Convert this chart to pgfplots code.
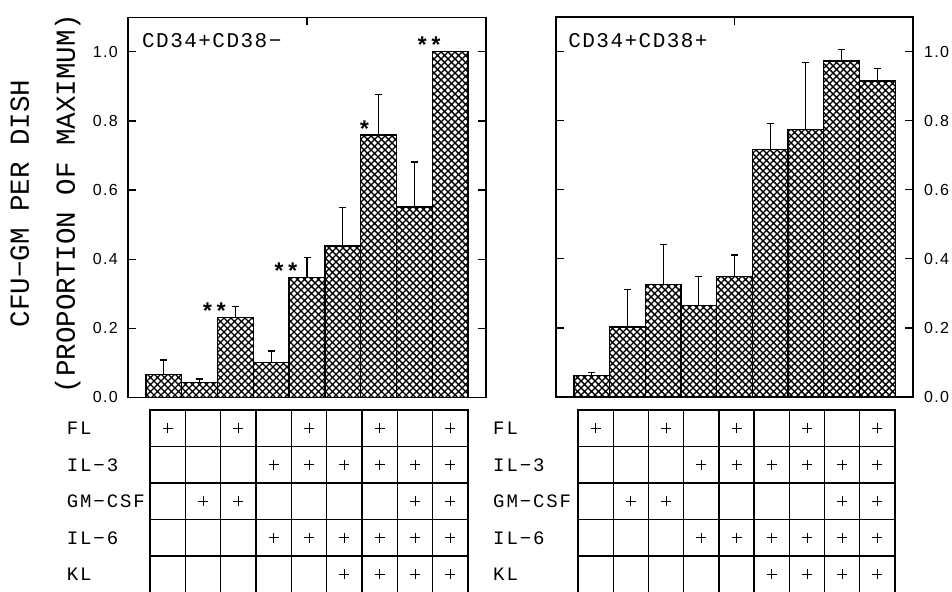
\documentclass[border=0pt]{standalone}
\usepackage{fontspec}
\setmainfont{Liberation Mono}
\newfontfamily\ticksf[LetterSpace=8]{Liberation Sans}
\newfontfamily\panelmono[LetterSpace=7]{Liberation Mono}
\newfontfamily\rowmono[LetterSpace=10]{Liberation Mono}
\usepackage{pgfplots}
\usepackage{pgfplotstable}
\pgfplotsset{compat=1.18}
\usetikzlibrary{patterns.meta}

% diagonal cross-hatch used to fill the bars
\tikzdeclarepattern{
  name=xhatch,
  type=uncolored,
  bottom left={(-0.8pt,-0.8pt)},
  top right={(7.8pt,7.8pt)},
  tile size={(7pt,7pt)},
  code={
    \draw[line width=1.4pt] (-0.8pt,-0.8pt) -- (7.8pt,7.8pt)
                            (-0.8pt,7.8pt) -- (7.8pt,-0.8pt);
  }
}

% colony counts, proportion of maximum, with upper SEM
\pgfplotstableread{
x y e
1 0.066 0.042
2 0.042 0.011
3 0.230 0.032
4 0.101 0.033
5 0.347 0.057
6 0.438 0.111
7 0.759 0.118
8 0.551 0.130
9 1.000 0.000
}\cdneg

\pgfplotstableread{
x y e
1 0.062 0.009
2 0.203 0.108
3 0.326 0.116
4 0.264 0.086
5 0.348 0.063
6 0.716 0.077
7 0.774 0.194
8 0.973 0.033
9 0.915 0.036
}\cdpos

% growth factor combinations: column, row (5 = FL ... 1 = KL)
\pgfplotstableread{
col row
1 5
3 5
5 5
7 5
9 5
4 4
5 4
6 4
7 4
8 4
9 4
2 3
3 3
8 3
9 3
4 2
5 2
6 2
7 2
8 2
9 2
6 1
7 1
8 1
9 1
}\factors

\pgfplotsset{
  panel/.style={
    ybar,
    scale only axis,
    height=380pt,
    xmin=0, xmax=10, ymin=0, ymax=1.1,
    xtick={5}, xticklabels={}, xtick pos=right,
    ytick={0,0.2,0.4,0.6,0.8,1.0},
    ytick pos=both,
    tick align=inside,
    major tick length=8pt,
    tick style={line width=1.2pt, black},
    axis line style={line width=1.4pt},
    clip=false,
    yticklabel style={font=\ticksf\fontsize{16}{16}\selectfont, inner sep=0pt},
    /pgf/number format/.cd, fixed, fixed zerofill, precision=1, assume math mode=true,
  },
  bars/.style={
    draw=black, line width=1.3pt, bar width=1,
    pattern=xhatch, pattern color=black,
    error bars/.cd, y dir=plus, y explicit,
    error bar style={line width=1.1pt, black},
    error mark options={rotate=90, mark size=3.5pt, line width=1.1pt, black},
  },
  grid table/.style={
    scale only axis,
    height=182.5pt,
    xmin=0.5, xmax=9.5, ymin=0.5, ymax=5.5,
    xtick={1.5,2.5,...,8.5}, xticklabels={},
    ytick={1,2,3,4,5},
    yticklabels={KL,IL−6,GM−CSF,IL−3,FL},
    major tick length=0pt,
    minor ytick={1.5,2.5,3.5,4.5},
    minor tick length=0pt,
    xmajorgrids=true, yminorgrids=true,
    major grid style={black, line width=1.3pt},
    minor grid style={black, line width=1.3pt},
    axis line style={line width=1.4pt},
    clip=false,
    yticklabel style={anchor=west, inner sep=0pt,
      font=\rowmono\fontsize{19}{19}\selectfont},
  },
  plus marks/.style={only marks, mark=+, mark size=5pt, line width=0.9pt, black},
}

\begin{document}
\begin{tikzpicture}
\path[use as bounding box] (0,0) rectangle (952pt,-591pt);

% ---- CD34+CD38- ----
\begin{axis}[panel,
  at={(128pt,-397.3pt)}, anchor=south west, width=358pt,
  yticklabel pos=left,
  yticklabel style={anchor=east, xshift=-10pt},
  ylabel={CFU−GM PER DISH\\(PROPORTION OF MAXIMUM)},
  every axis y label/.style={at={(axis description cs:-0.2304,0.51)},
    anchor=center, rotate=90, align=center,
    font=\fontsize{27.5}{46}\selectfont},
]
\addplot[bars] table[x=x, y=y, y error=e] {\cdneg};
\node[anchor=base west, inner sep=0pt, font=\panelmono\fontsize{21}{21}\selectfont]
  at (axis description cs:0.039,0.921) {CD34+CD38−};
\begin{scope}[every node/.style={anchor=base east, inner sep=0pt, xshift=-7pt,
    yshift=-2pt, font=\bfseries\fontsize{23}{23}\selectfont}]
\node at (axis cs:3,0.230) {**};
\node at (axis cs:5,0.347) {**};
\node at (axis cs:7,0.759) {*};
\node at (axis cs:9,1.000) {**};
\end{scope}
\end{axis}

% ---- CD34+CD38+ ----
\begin{axis}[panel,
  at={(556pt,-397pt)}, anchor=south west, width=357pt,
  yticklabel pos=right,
  yticklabel style={anchor=west, xshift=11pt},
]
\addplot[bars] table[x=x, y=y, y error=e] {\cdpos};
\node[anchor=base west, inner sep=0pt, font=\panelmono\fontsize{21}{21}\selectfont]
  at (axis description cs:0.034,0.921) {CD34+CD38+};
\end{axis}

% ---- factor tables ----
\begin{axis}[grid table,
  at={(150pt,-410pt)}, anchor=north west, width=318pt,
  yticklabel style={xshift=-83.3pt},
]
\addplot[plus marks] table[x=col, y=row] {\factors};
\end{axis}

\begin{axis}[grid table,
  at={(578pt,-410pt)}, anchor=north west, width=317pt,
  yticklabel style={xshift=-85pt},
]
\addplot[plus marks] table[x=col, y=row] {\factors};
\end{axis}
\end{tikzpicture}
\end{document}
